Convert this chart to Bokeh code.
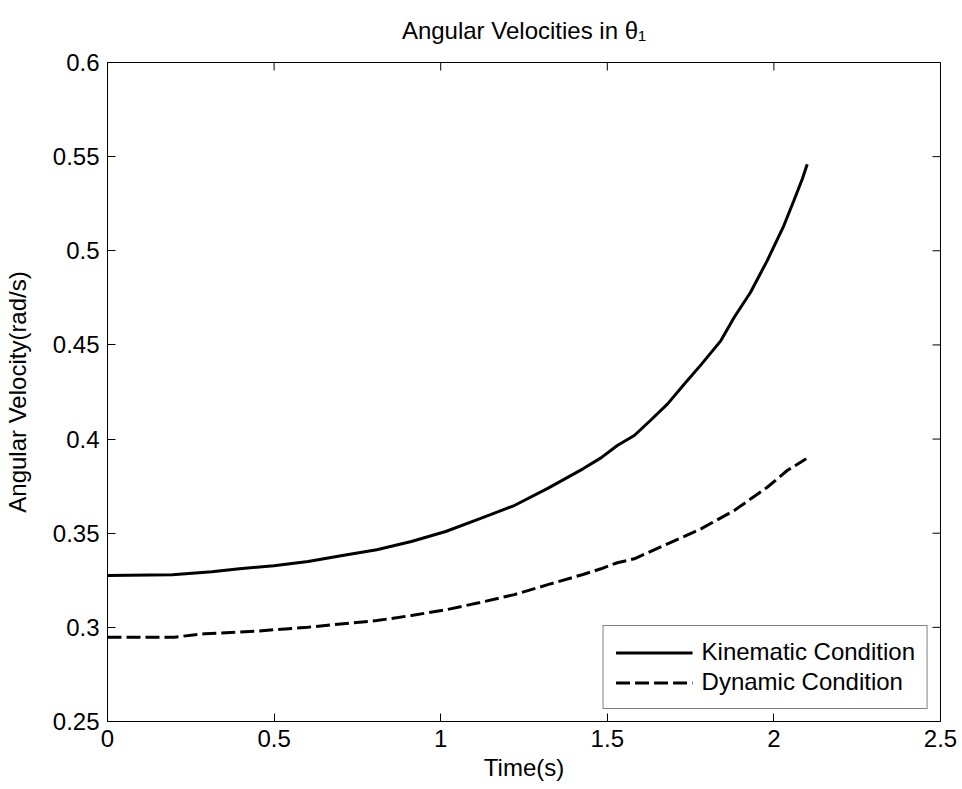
import math
from bokeh.plotting import figure
from bokeh.models import (Range1d, LinearAxis, FixedTicker, CustomJSTickFormatter,
                          Legend, LegendItem)
from bokeh.embed import file_html
from bokeh.resources import INLINE

# ---- data ----
time_kin = [0.0, 0.195, 0.313, 0.396, 0.499, 0.602, 0.705, 0.808, 0.912, 1.015,
            1.118, 1.221, 1.324, 1.427, 1.481, 1.53, 1.581, 1.63, 1.681, 1.73,
            1.781, 1.841, 1.881, 1.93, 1.98, 2.03, 2.06, 2.085, 2.1]
kinematic = [0.3275, 0.328, 0.3295, 0.3311, 0.3327, 0.335, 0.3382, 0.3412,
             0.3456, 0.3509, 0.3577, 0.3647, 0.3741, 0.3842, 0.390, 0.3966,
             0.4019, 0.410, 0.4187, 0.429, 0.4394, 0.4523, 0.4647, 0.478,
             0.4948, 0.5134, 0.5267, 0.538, 0.546]
time_dyn = [0.0, 0.2, 0.292, 0.448, 0.602, 0.808, 0.912, 1.015, 1.118, 1.221,
            1.324, 1.427, 1.481, 1.53, 1.581, 1.681, 1.781, 1.881, 1.98, 2.04,
            2.097]
dynamic = [0.2948, 0.2948, 0.2966, 0.298, 0.3001, 0.3036, 0.3063, 0.3093,
           0.3132, 0.3174, 0.3228, 0.3281, 0.3311, 0.3343, 0.3364, 0.3444,
           0.3523, 0.3621, 0.3744, 0.3833, 0.3895]

x_ticks = [0, 0.5, 1, 1.5, 2, 2.5]
x_tick_labels = ["0", "0.5", "1", "1.5", "2", "2.5"]
y_ticks = [0.25, 0.3, 0.35, 0.4, 0.45, 0.5, 0.55, 0.6]
y_tick_labels = ["0.25", "0.3", "0.35", "0.4", "0.45", "0.5", "0.55", "0.6"]

title_text = "Angular Velocities in \u03b8\u2081"
x_label = "Time(s)"
y_label = "Angular Velocity(rad/s)"
series_names = ["Kinematic Condition", "Dynamic Condition"]

FONT = "Liberation Sans"
FS = "24px"

x_min, x_max = x_ticks[0], x_ticks[-1]
y_min, y_max = y_ticks[0], y_ticks[-1]

p = figure(width=962, height=789, output_backend="svg", toolbar_location=None,
           x_range=Range1d(x_min, x_max), y_range=Range1d(y_min, y_max),
           x_axis_location=None, y_axis_location=None,
           min_border_left=106, min_border_right=22,
           min_border_top=5, min_border_bottom=68)
p.grid.visible = False
p.outline_line_color = "black"
p.outline_line_width = 1
p.background_fill_color = "white"
p.border_fill_color = "white"


def fmt(vals, labs):
    return CustomJSTickFormatter(args=dict(vals=vals, labs=labs), code="""
        for (let i = 0; i < vals.length; i++) {
            if (Math.abs(vals[i] - tick) < 1e-9) return labs[i];
        }
        return '';
    """)


def style_axis(ax):
    ax.axis_line_color = "black"
    ax.axis_line_width = 1
    ax.major_tick_line_color = "black"
    ax.major_tick_in = 8
    ax.major_tick_out = 0
    ax.minor_tick_line_color = None
    ax.major_label_text_font = FONT
    ax.major_label_text_font_size = FS
    ax.major_label_text_color = "black"
    ax.axis_label_text_font = FONT
    ax.axis_label_text_font_size = FS
    ax.axis_label_text_font_style = "normal"
    ax.axis_label_text_color = "black"


xb = LinearAxis(ticker=FixedTicker(ticks=x_ticks), formatter=fmt(x_ticks, x_tick_labels))
style_axis(xb)
xb.major_label_standoff = 8
xb.axis_label = x_label
xb.axis_label_standoff = 4
p.add_layout(xb, "below")

yl = LinearAxis(ticker=FixedTicker(ticks=y_ticks), formatter=fmt(y_ticks, y_tick_labels))
style_axis(yl)
yl.major_label_standoff = 8
yl.axis_label = y_label
yl.axis_label_standoff = 19
p.add_layout(yl, "left")

# mirrored inward ticks on the top and right edges (clipped to the frame)
p.scatter(x=x_ticks, y=[y_max] * len(x_ticks), marker="dash", size=16,
          angle=math.pi / 2, line_color="black", line_width=1)
p.scatter(x=[x_max] * len(y_ticks), y=y_ticks, marker="dash", size=16,
          line_color="black", line_width=1)

r1 = p.line(time_kin, kinematic, line_color="black", line_width=3)
r2 = p.line(time_dyn, dynamic, line_color="black", line_width=3, line_dash="14 5")

legend = Legend(items=[LegendItem(label=series_names[0], renderers=[r1]),
                       LegendItem(label=series_names[1], renderers=[r2])],
                location="bottom_right", margin=12, padding=12, spacing=2,
                glyph_width=77, glyph_height=27, label_height=27, label_standoff=9,
                label_text_font=FONT, label_text_font_size=FS,
                label_text_color="black",
                border_line_color="black", border_line_width=1,
                background_fill_color="white", background_fill_alpha=1.0)
p.add_layout(legend, "center")

p.title.text = title_text
p.title.align = "center"
p.title.vertical_align = "top"
p.title.text_font = FONT
p.title.text_font_size = FS
p.title.text_font_style = "normal"
p.title.text_color = "black"
p.title.standoff = 33

open("out.html", "w").write(file_html(p, INLINE))
